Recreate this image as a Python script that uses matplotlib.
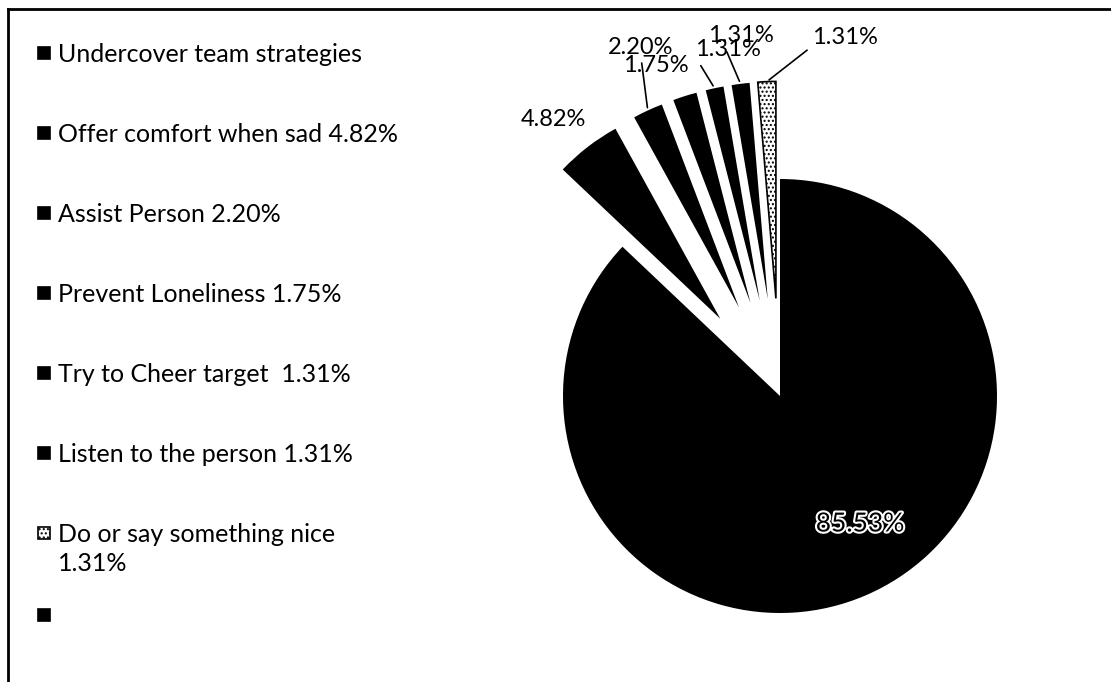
import numpy as np
import matplotlib
matplotlib.use("Agg")
from matplotlib import pyplot as plt
from matplotlib.patches import Rectangle
from matplotlib.lines import Line2D
import matplotlib.patheffects as pe

plt.rcParams['font.family'] = ['Lato', 'DejaVu Sans']

categories = ["Undercover team strategies", "Offer comfort when sad", "Assist Person",
              "Prevent Loneliness", "Try to Cheer target", "Listen to the person",
              "Do or say something nice"]
shares = [85.53, 4.82, 2.20, 1.75, 1.31, 1.31, 1.31]
legend_labels = ["Undercover team strategies",
                 "Offer comfort when sad 4.82%",
                 "Assist Person 2.20%",
                 "Prevent Loneliness 1.75%",
                 "Try to Cheer target  1.31%",
                 "Listen to the person 1.31%",
                 "Do or say something nice\n1.31%",
                 ""]

W, H = 1111, 682
fig = plt.figure(figsize=(W / 100, H / 100), dpi=100)
fig.patch.set_facecolor("white")

# pie axes: centre at (780, 396) px from top-left, radius ~217 px
cx, cy, rad, lim = 780, H - 396, 217, 1.6
side = 2 * lim * rad
ax = fig.add_axes([(cx - side / 2) / W, (cy - side / 2) / H, side / W, side / H])

explode = [0, 0.45, 0.45, 0.45, 0.45, 0.45, 0.45]
colors = ["black"] * 6 + ["white"]
wedges, _ = ax.pie(shares, explode=explode, colors=colors, startangle=90,
                   counterclock=False, radius=1.0,
                   wedgeprops=dict(linewidth=0))
wedges[-1].set_edgecolor("black")
wedges[-1].set_linewidth(1.2)
wedges[-1].set_hatch("....")
for w in wedges:
    w.set_clip_on(False)
ax.set_xlim(-lim, lim)
ax.set_ylim(-lim, lim)
ax.set_aspect("equal")
ax.axis("off")


def arc_point(w, frac=1.0):
    mid = np.deg2rad((w.theta1 + w.theta2) / 2)
    return (w.center[0] + frac * w.r * np.cos(mid),
            w.center[1] + frac * w.r * np.sin(mid))


# big slice label, sitting low-right inside the wedge
fig.text(860 / W, (H - 524) / H, f"{shares[0]:.2f}%", ha="center", va="center",
         fontsize=19, color="black",
         path_effects=[pe.withStroke(linewidth=3, foreground="white")])

# small slice labels, placed in figure pixels (from top)
label_px = [None, (553, 120), (641, 47), (656, 66), (728, 50), (741, 36), (845, 37)]
leader = [False, False, True, False, True, True, True]
relpos = [None, None, (0.5, 0), None, (0.0, 0.2), (0.25, 0), (0.0, 0.3)]
conn = [None, None, "arc3", None, "arc3", "arc3", "angle,angleA=0,angleB=38,rad=0"]
for i in range(1, len(shares)):
    px, py = label_px[i]
    xy = arc_point(wedges[i], 1.0)
    kw = {}
    if leader[i]:
        kw["arrowprops"] = dict(arrowstyle="-", color="black", lw=1.2,
                                relpos=relpos[i], shrinkA=2, shrinkB=2,
                                connectionstyle=conn[i])
    ax.annotate(f"{shares[i]:.2f}%", xy=xy, xycoords="data",
                xytext=(px, H - py), textcoords="figure pixels",
                ha="center", va="center", fontsize=17, annotation_clip=False, **kw)

# legend on the left
for i, lab in enumerate(legend_labels):
    yc = 53 + 80 * i if i < 7 else 615
    face = "white" if i == 6 else "black"
    sq = Rectangle((38 / W, (H - yc - 6) / H), 12 / W, 12 / H, transform=fig.transFigure,
                   facecolor=face, edgecolor="black", linewidth=1.2,
                   hatch="...." if i == 6 else None)
    fig.patches.append(sq)
    if lab:
        fig.text(58 / W, (H - yc + 10) / H, lab, ha="left", va="top", fontsize=18,
                 linespacing=1.3)

# frame lines
fig.add_artist(Line2D([8 / W, 8 / W], [0, (H - 9) / H], transform=fig.transFigure,
                      color="black", lw=2))
fig.add_artist(Line2D([8 / W, 1], [(H - 9) / H, (H - 9) / H], transform=fig.transFigure,
                      color="black", lw=2))

fig.savefig("out.png", dpi=100)
